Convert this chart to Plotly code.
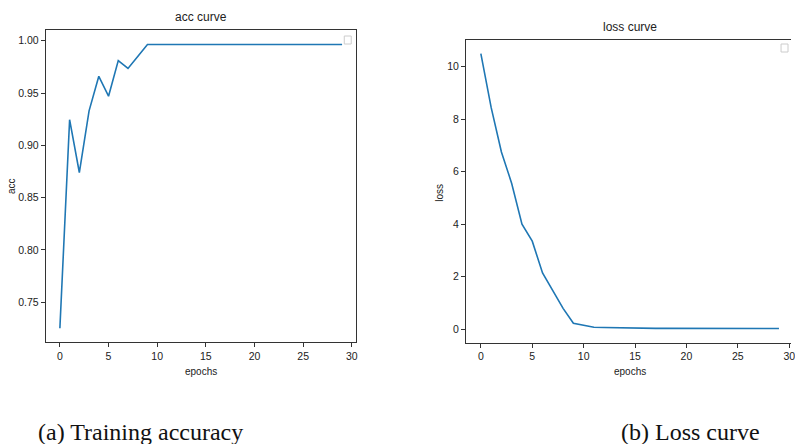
import plotly.graph_objects as go

epochs = list(range(30))
acc = [0.725, 0.9245, 0.874, 0.933, 0.966, 0.947, 0.981, 0.9735, 0.985, 0.9965,
       0.9965, 0.9965, 0.9965, 0.9965, 0.9965, 0.9965, 0.9965, 0.9965, 0.9965, 0.9965,
       0.9965, 0.9965, 0.9965, 0.9965, 0.9965, 0.9965, 0.9965, 0.9965, 0.9965, 0.9965]
loss = [10.5, 8.45, 6.75, 5.55, 4.0, 3.35, 2.14, 1.48, 0.79, 0.22,
        0.14, 0.07, 0.06, 0.05, 0.035, 0.03, 0.03, 0.028, 0.027, 0.025,
        0.025, 0.024, 0.024, 0.023, 0.022, 0.022, 0.021, 0.02, 0.02, 0.02]
x_ticks = [0, 5, 10, 15, 20, 25, 30]
acc_ticks = [0.75, 0.80, 0.85, 0.90, 0.95, 1.00]
loss_ticks = [0, 2, 4, 6, 8, 10]

W, H = 795, 444
BLUE = "#1f77b4"
FAM = "Liberation Sans, Arial, sans-serif"
TICKFONT = dict(family=FAM, size=10.5, color="#222")
LBLFONT = dict(family=FAM, size=10, color="#222")
TITLEFONT = dict(family=FAM, size=12, color="#222")
CAPFONT = dict(family="Liberation Serif, Times New Roman, serif", size=24, color="#111")

def px(x):
    return x / W

def py(y):
    return 1 - y / H

fig = go.Figure()
fig.add_trace(go.Scatter(x=epochs, y=acc, mode="lines", line=dict(color=BLUE, width=1.6),
                         xaxis="x", yaxis="y", showlegend=False))
fig.add_trace(go.Scatter(x=epochs, y=loss, mode="lines", line=dict(color=BLUE, width=1.6),
                         xaxis="x2", yaxis="y2", showlegend=False))

axcommon = dict(showgrid=False, zeroline=False, showline=True, linecolor="#333", linewidth=1,
                ticks="outside", ticklen=4, tickcolor="#333", tickfont=TICKFONT)

fig.update_layout(
    width=W, height=H, margin=dict(l=0, r=0, t=0, b=0),
    paper_bgcolor="white", plot_bgcolor="white",
    xaxis=dict(domain=[px(46), px(358)], range=[-1.45, 30.45], tickvals=x_ticks,
               anchor="y", mirror=True, **axcommon),
    yaxis=dict(domain=[py(342), py(30)], range=[0.7119, 1.0103], tickvals=acc_ticks,
               ticktext=[f"{v:.2f}" for v in acc_ticks], anchor="x", mirror=True, **axcommon),
    xaxis2=dict(domain=[px(468.3), 1.0], range=[-1.45, 30.17], tickvals=x_ticks,
                anchor="y2", mirror=True, ticklabeloverflow="allow", **axcommon),
    yaxis2=dict(domain=[py(342.7), py(40)], range=[-0.52, 11.02], tickvals=loss_ticks,
                anchor="x2", **axcommon),
)

ann = [
    dict(text="acc curve", x=px(202), y=py(17), font=TITLEFONT),
    dict(text="loss curve", x=px(633), y=py(27), font=TITLEFONT),
    dict(text="epochs", x=px(202), y=py(371), font=LBLFONT),
    dict(text="epochs", x=px(633), y=py(371), font=LBLFONT),
    dict(text="acc", x=px(12), y=py(186), font=LBLFONT, textangle=-90),
    dict(text="loss", x=px(441), y=py(193), font=LBLFONT, textangle=-90),
    dict(text="(a) Training accuracy", x=px(141.5), y=py(432), font=CAPFONT),
    dict(text="(b) Loss curve", x=px(694), y=py(432), font=CAPFONT),
]
for a in ann:
    fig.add_annotation(xref="paper", yref="paper", showarrow=False,
                       xanchor="center", yanchor="middle", **a)

# empty legend boxes (matplotlib legend with no entries)
for (x0, y0) in [(346, 36), (785, 44)]:
    fig.add_shape(type="rect", xref="paper", yref="paper",
                  x0=px(x0), x1=px(x0 + 7), y0=py(y0 + 8), y1=py(y0),
                  line=dict(color="#ccc", width=1), fillcolor="white")

fig.write_html("out.html", config={"displayModeBar": False},
               post_script="document.body.style.margin='0';document.body.style.overflow='hidden';")
